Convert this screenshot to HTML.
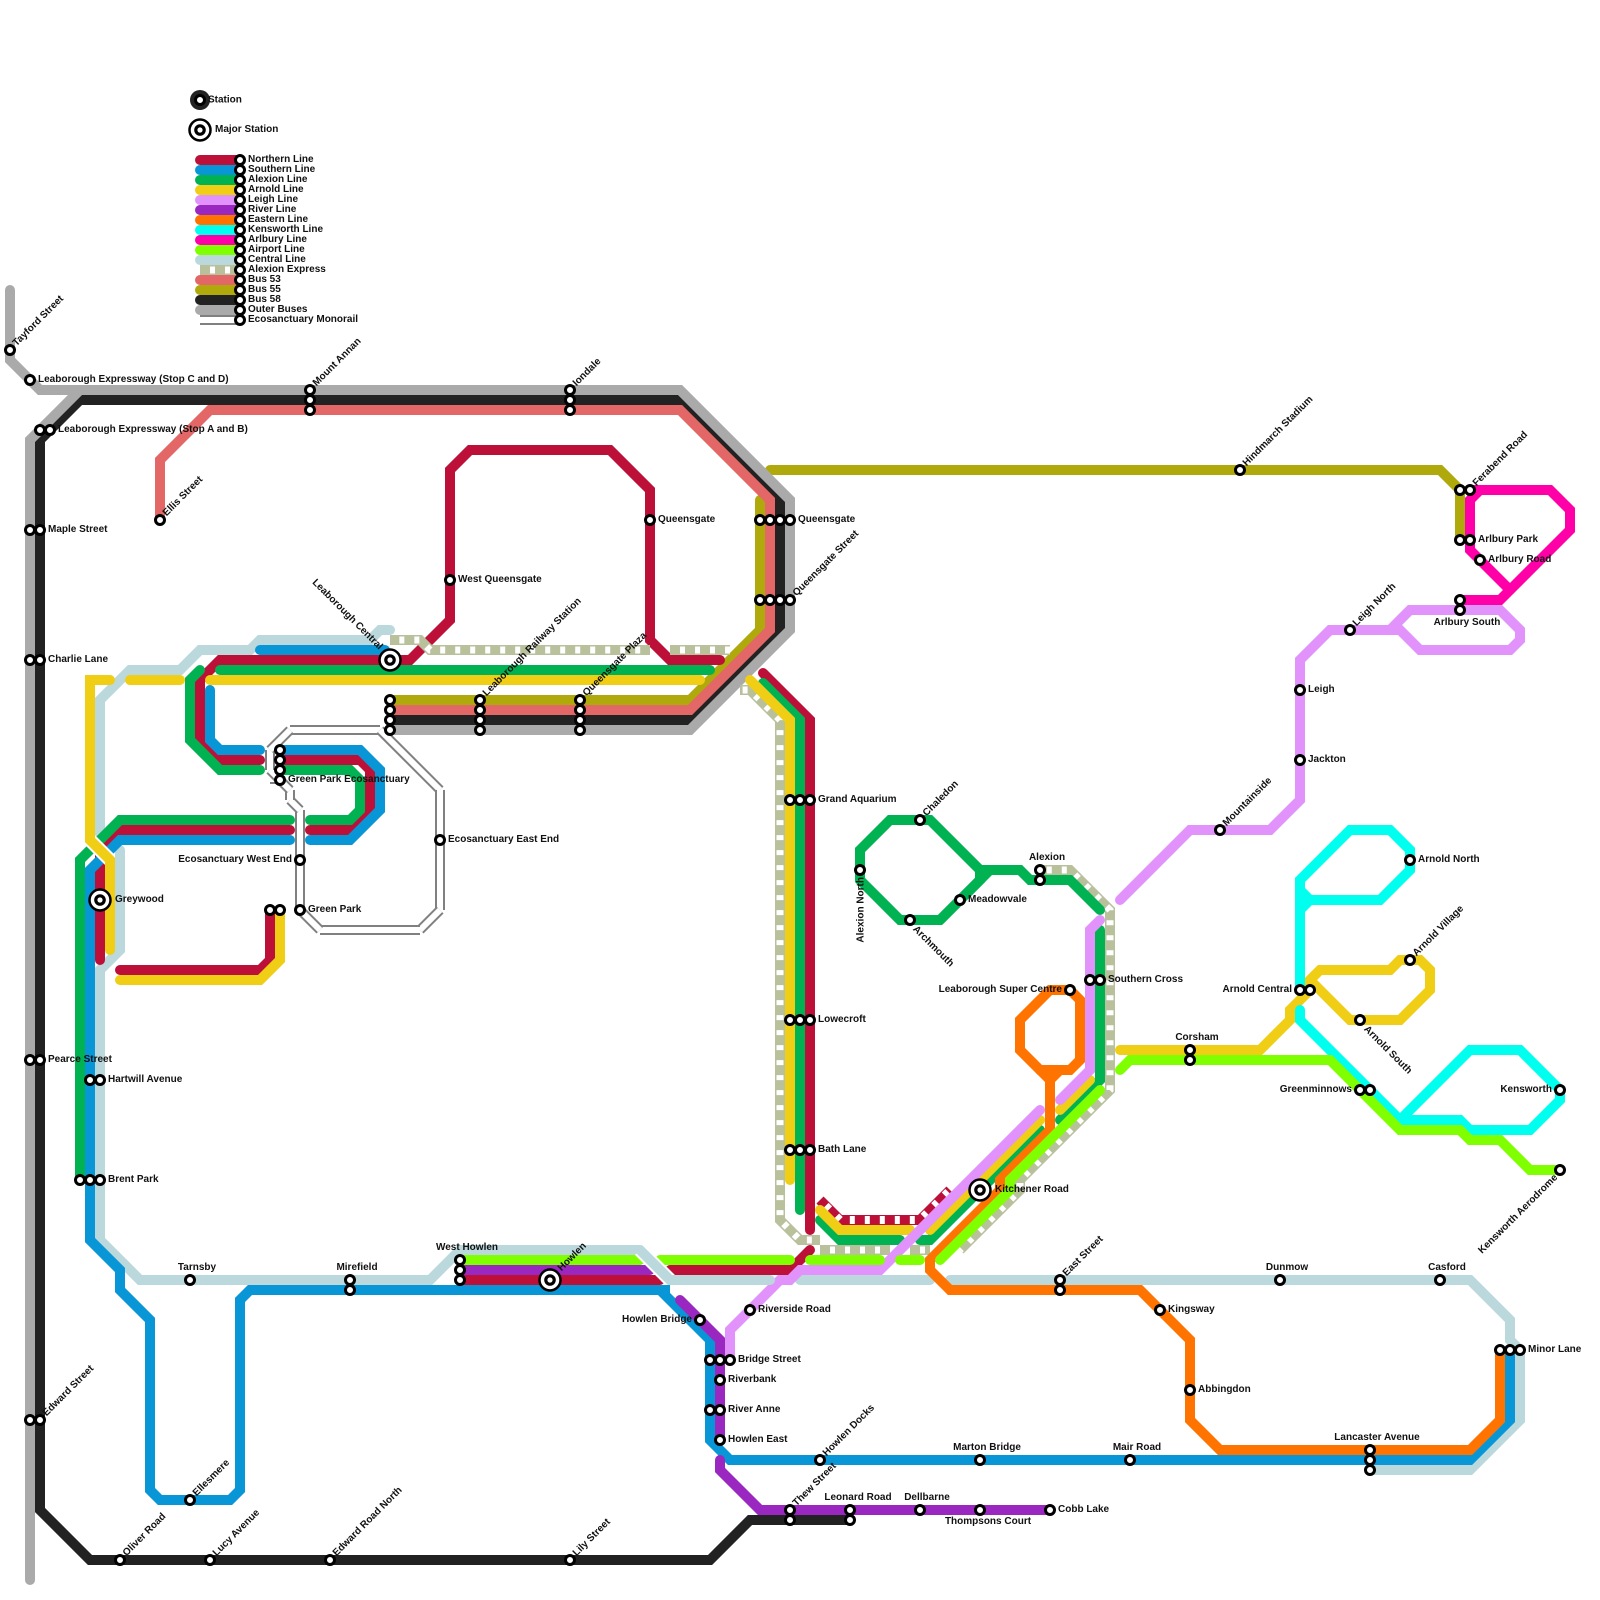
<!DOCTYPE html>
<html><head><meta charset="utf-8"><style>
html,body{margin:0;padding:0;background:#fff}
svg{display:block}
text{font-family:"Liberation Sans",sans-serif;font-size:10px;font-weight:bold;fill:#111}
.l polyline,.l line{fill:none;stroke-width:10;stroke-linecap:round;stroke-linejoin:miter}
.s circle{fill:#fff;stroke:#000;stroke-width:3}
.m{text-anchor:middle}.e{text-anchor:end}
.g{stroke:#808080;stroke-width:10}.w{stroke:#fff;stroke-width:6}
</style></head><body>
<svg xmlns="http://www.w3.org/2000/svg" width="1600" height="1600" viewBox="0 0 1600 1600">
<rect width="1600" height="1600" fill="#fff"/>
<!-- monorail -->
<g>
<line class="g" x1="290" y1="730" x2="380" y2="730"/><line class="w" x1="290" y1="730" x2="380" y2="730"/>
<line class="g" x1="380" y1="730" x2="440" y2="790"/><line class="w" x1="380" y1="730" x2="440" y2="790"/>
<line class="g" x1="440" y1="790" x2="440" y2="910"/><line class="w" x1="440" y1="790" x2="440" y2="910"/>
<line class="g" x1="440" y1="910" x2="420" y2="930"/><line class="w" x1="440" y1="910" x2="420" y2="930"/>
<line class="g" x1="420" y1="930" x2="320" y2="930"/><line class="w" x1="420" y1="930" x2="320" y2="930"/>
<line class="g" x1="320" y1="930" x2="300" y2="910"/><line class="w" x1="320" y1="930" x2="300" y2="910"/>
<line class="g" x1="300" y1="910" x2="300" y2="810"/><line class="w" x1="300" y1="910" x2="300" y2="810"/>
<line class="g" x1="300" y1="810" x2="290" y2="800"/><line class="w" x1="300" y1="810" x2="290" y2="800"/>
<line class="g" x1="290" y1="800" x2="290" y2="790"/><line class="w" x1="290" y1="800" x2="290" y2="790"/>
<line class="g" x1="290" y1="790" x2="270" y2="770"/><line class="w" x1="290" y1="790" x2="270" y2="770"/>
<line class="g" x1="270" y1="770" x2="270" y2="750"/><line class="w" x1="270" y1="770" x2="270" y2="750"/>
<line class="g" x1="270" y1="750" x2="290" y2="730"/><line class="w" x1="270" y1="750" x2="290" y2="730"/>
<line x1="270" y1="783" x2="280" y2="783" stroke="#808080" stroke-width="2"/>
</g>
<g class="l">
<!-- buses -->
<g stroke="#afa90b">
<polyline points="760,500 760,630 690,700 390,700"/>
<polyline points="770,470 1440,470 1460,490 1460,540"/>
</g>
<g stroke="#222">
<polyline points="80,400 680,400 780,500 780,630 690,720 390,720"/>
<polyline points="80,400 40,440 40,1510 90,1560 710,1560 750,1520 850,1520"/>
</g>
<polyline stroke="#e46767" points="160,520 160,460 210,410 680,410 770,500 770,630 690,710 390,710"/>
<g stroke="#aaa">
<polyline points="10,290 10,360 40,390 680,390 790,500 790,630 690,730 390,730"/>
<polyline points="80,390 30,440 30,1580"/>
</g>
<!-- central -->
<g stroke="#bbd9dc">
<polyline points="100,835 100,700 130,670 180,670 200,650 250,650 260,640 370,640 380,630 390,630"/>
<polyline points="120,850 120,950 100,970 100,1240 140,1280 430,1280 460,1250 640,1250"/>
<polyline points="800,1280 930,1280"/>
<polyline points="950,1280 1470,1280 1510,1320 1510,1340 1520,1350 1520,1420 1470,1470 1370,1470"/>
</g>
<!-- northern -->
<g stroke="#bd1038">
<polyline points="260,760 220,760 200,740 200,680 220,660 410,660 450,620 450,470 470,450 610,450 650,490 650,640 670,660 720,660"/>
<polyline points="280,760 360,760 370,770 370,810 350,830 310,830"/>
<polyline points="290,830 120,830 100,850 100,960"/>
<polyline points="120,970 260,970 270,960 270,910"/>
<polyline points="763,673 810,720 810,1230"/>
<polyline points="670,1270 790,1270 810,1250"/>
<polyline points="460,1280 660,1280"/>
<polyline points="820,1200 840,1220 920,1220 950,1190" style="stroke-linecap:butt"/>
</g>
<polyline points="820,1200 840,1220 920,1220 950,1190" style="stroke:#fff;stroke-width:8;stroke-linecap:butt;stroke-dasharray:5 10;stroke-dashoffset:-8.1"/>
<!-- express -->
<g stroke="#b8c19c">
<polyline style="stroke-linecap:butt" points="390,640 420,640 430,650 650,650"/>
<polyline style="stroke-linecap:butt" points="670,650 730,650"/>
<polyline style="stroke-linecap:butt" points="740,690 750,690 780,720 780,1220 800,1240 820,1240"/>
<polyline style="stroke-linecap:butt" points="820,1250 890,1250"/>
<polyline style="stroke-linecap:butt" points="910,1250 930,1250"/>
<polyline style="stroke-linecap:butt" points="960,1250 1020,1190 1020,1180 1110,1090 1110,910 1070,870 1040,870"/>
</g>
<g stroke="#fff">
<polyline style="stroke-linecap:butt;stroke-width:7;stroke-dasharray:5 10;stroke-dashoffset:-9.34" points="390,640 420,640 430,650 650,650"/>
<polyline style="stroke-linecap:butt;stroke-width:7;stroke-dasharray:5 10;stroke-dashoffset:-10" points="670,650 730,650"/>
<polyline style="stroke-linecap:butt;stroke-width:7;stroke-dasharray:5 10;stroke-dashoffset:-17.6" points="740,690 750,690 780,720 780,1220 800,1240 820,1240"/>
<polyline style="stroke-linecap:butt;stroke-width:7;stroke-dasharray:5 10;stroke-dashoffset:-10" points="820,1250 890,1250"/>
<polyline style="stroke-linecap:butt;stroke-width:7;stroke-dasharray:5 10;stroke-dashoffset:-10" points="910,1250 930,1250"/>
<polyline style="stroke-linecap:butt;stroke-width:7;stroke-dasharray:5 10;stroke-dashoffset:-11.9" points="960,1250 1020,1190 1020,1180 1110,1090 1110,910 1070,870 1040,870"/>
</g>
<!-- alexion -->
<g stroke="#00b251">
<polyline points="200,670 190,680 190,740 220,770 260,770"/>
<polyline points="220,670 710,670"/>
<polyline points="280,770 350,770 360,780 360,810 350,820 310,820"/>
<polyline points="290,820 120,820 80,860 80,1180"/>
<polyline points="763,683 800,720 800,1210"/>
<polyline points="820,1220 840,1240 900,1240"/>
<polyline points="920,1240 930,1240 1040,1130"/>
<polyline points="1060,1120 1100,1080 1100,930"/>
<polygon style="fill:none;stroke-width:10;stroke-linejoin:miter" points="860,850 890,820 930,820 980,870 980,880 940,920 900,920 860,880"/>
<polyline points="990,870 940,920" style="stroke-linecap:butt"/>
<polyline points="980,870 1020,870 1030,880 1070,880 1100,910"/>
</g>
<!-- arnold -->
<g stroke="#f0ce15">
<polyline points="130,680 180,680"/>
<polyline points="210,680 700,680"/>
<polyline points="120,980 260,980 280,960 280,910"/>
<polyline points="750,680 790,720 790,1180"/>
<polyline points="820,1210 840,1230 910,1230"/>
<polyline points="930,1230 1040,1120"/>
<polyline points="1060,1110 1090,1080"/>
<polyline points="1120,1050 1260,1050 1290,1020 1290,1010 1310,990 1310,980 1320,970 1390,970 1400,960 1420,960 1430,970 1430,990 1400,1020 1350,1020 1310,980"/>
</g>
<!-- leigh -->
<g stroke="#e292fb">
<polyline points="730,1360 730,1330 780,1280 790,1280 800,1270 880,1270 1040,1110"/>
<polyline points="1060,1100 1090,1070 1090,930 1100,920"/>
<polyline points="1120,900 1190,830 1270,830 1300,800 1300,660 1330,630 1400,630 1420,650 1510,650 1520,640 1520,630 1500,610 1410,610 1390,630"/>
</g>
<!-- southern -->
<g stroke="#0896d7">
<polyline points="260,650 385,650"/>
<polyline points="210,690 210,740 220,750 260,750"/>
<polyline points="280,750 360,750 380,770 380,810 350,840 310,840"/>
<polyline points="290,840 120,840 90,870 90,1240 120,1270 120,1290 150,1320 150,1490 160,1500 230,1500 240,1490 240,1300 250,1290 660,1290 710,1340 710,1440 730,1460 1470,1460 1510,1420 1510,1350"/>
<polyline points="660,1290 670,1290" style="stroke-linecap:butt"/>
</g>
<!-- arnold over bundle -->
<polyline points="90,840 110,860" style="stroke:#fff;stroke-width:14;stroke-linecap:butt"/>
<polyline stroke="#f0ce15" points="110,680 90,680 90,840 110,860 110,950"/>
<!-- eastern -->
<g stroke="#ff7300">
<polygon style="fill:none;stroke-width:10;stroke-linejoin:miter" points="1050,990 1070,990 1080,1000 1080,1060 1070,1070 1040,1070 1020,1050 1020,1020"/>
<polyline points="1060,1070 1050,1080" style="stroke-linecap:butt"/>
<polyline points="1040,1070 1050,1080 1050,1130 1000,1180 1000,1190 930,1260 930,1270 950,1290 1140,1290 1190,1340 1190,1420 1220,1450 1470,1450 1500,1420 1500,1350"/>
</g>
<!-- river -->
<g stroke="#9b27c1">
<polyline points="460,1270 650,1270"/>
<polyline points="680,1300 720,1340 720,1440"/>
<polyline points="720,1460 720,1470 760,1510 1050,1510"/>
</g>
<!-- kensworth -->
<g stroke="#00ffef">
<polyline points="1300,990 1300,880 1350,830 1390,830 1410,850 1410,870 1380,900 1310,900 1300,890"/>
<polyline points="1300,910 1310,900"/>
<polyline points="1300,1010 1300,1020 1400,1120 1460,1120 1470,1130 1530,1130 1560,1100 1560,1090 1520,1050 1470,1050 1400,1120"/>
</g>
<!-- arlbury -->
<polyline stroke="#ff00a8" points="1460,600 1500,600 1570,530 1570,510 1550,490 1480,490 1470,500 1470,550 1510,590"/>
<polyline stroke="#ff00a8" points="1470,490 1480,490"/>
<!-- airport -->
<g stroke="#7fff00">
<polyline points="460,1260 640,1260"/>
<polyline points="660,1260 790,1260"/>
<polyline points="810,1260 880,1260"/>
<polyline points="900,1260 920,1260"/>
<polyline points="940,1260 1010,1190 1010,1180 1100,1090"/>
<polyline points="1120,1070 1130,1060 1330,1060 1400,1130 1460,1130 1470,1140 1500,1140 1530,1170 1560,1170"/>
</g>
<!-- central over -->
<polyline points="640,1250 670,1280" style="stroke:#fff;stroke-width:14;stroke-linecap:butt"/>
<polyline stroke="#bbd9dc" points="640,1250 670,1280 770,1280"/>
<!-- legend -->
<line x1="200" y1="160" x2="240" y2="160" stroke="#bd1038"/>
<line x1="200" y1="170" x2="240" y2="170" stroke="#0896d7"/>
<line x1="200" y1="180" x2="240" y2="180" stroke="#00b251"/>
<line x1="200" y1="190" x2="240" y2="190" stroke="#f0ce15"/>
<line x1="200" y1="200" x2="240" y2="200" stroke="#e292fb"/>
<line x1="200" y1="210" x2="240" y2="210" stroke="#9b27c1"/>
<line x1="200" y1="220" x2="240" y2="220" stroke="#ff7300"/>
<line x1="200" y1="230" x2="240" y2="230" stroke="#00ffef"/>
<line x1="200" y1="240" x2="240" y2="240" stroke="#ff00a8"/>
<line x1="200" y1="250" x2="240" y2="250" stroke="#7fff00"/>
<line x1="200" y1="260" x2="240" y2="260" stroke="#bbd9dc"/>
<line x1="200" y1="270" x2="240" y2="270" stroke="#b8c19c" style="stroke-linecap:butt"/>
<line x1="200" y1="270" x2="240" y2="270" style="stroke:#fff;stroke-width:7;stroke-linecap:butt;stroke-dasharray:5 10;stroke-dashoffset:-10"/>
<line x1="200" y1="280" x2="240" y2="280" stroke="#e46767"/>
<line x1="200" y1="290" x2="240" y2="290" stroke="#afa90b"/>
<line x1="200" y1="300" x2="240" y2="300" stroke="#222"/>
<line x1="200" y1="310" x2="240" y2="310" stroke="#aaa"/>
</g>
<line x1="200" y1="316" x2="240" y2="316" stroke="#808080" stroke-width="2"/>
<line x1="200" y1="324" x2="240" y2="324" stroke="#808080" stroke-width="2"/>
<circle cx="200" cy="100" r="10" fill="#222"/>
<!-- major stations -->
<g fill="#fff" stroke="#000">
<circle cx="200" cy="130" r="10.5" stroke-width="2.5"/><circle cx="200" cy="130" r="4.2" stroke-width="3.2"/>
<circle cx="390" cy="660" r="10.5" stroke-width="2.5"/><circle cx="390" cy="660" r="4.2" stroke-width="3.2"/>
<circle cx="100" cy="900" r="10.5" stroke-width="2.5"/><circle cx="100" cy="900" r="4.2" stroke-width="3.2"/>
<circle cx="550" cy="1280" r="10.5" stroke-width="2.5"/><circle cx="550" cy="1280" r="4.2" stroke-width="3.2"/>
<circle cx="980" cy="1190" r="10.5" stroke-width="2.5"/><circle cx="980" cy="1190" r="4.2" stroke-width="3.2"/>
</g>
<!-- stations -->
<g class="s">
<circle cx="200" cy="100" r="4.5"/>
<circle cx="240" cy="160" r="4.5"/><circle cx="240" cy="170" r="4.5"/><circle cx="240" cy="180" r="4.5"/><circle cx="240" cy="190" r="4.5"/><circle cx="240" cy="200" r="4.5"/><circle cx="240" cy="210" r="4.5"/><circle cx="240" cy="220" r="4.5"/><circle cx="240" cy="230" r="4.5"/><circle cx="240" cy="240" r="4.5"/><circle cx="240" cy="250" r="4.5"/><circle cx="240" cy="260" r="4.5"/><circle cx="240" cy="270" r="4.5"/><circle cx="240" cy="280" r="4.5"/><circle cx="240" cy="290" r="4.5"/><circle cx="240" cy="300" r="4.5"/><circle cx="240" cy="310" r="4.5"/><circle cx="240" cy="320" r="4.5"/>
<circle cx="10" cy="350" r="4.5"/><circle cx="30" cy="380" r="4.5"/><circle cx="40" cy="430" r="4.5"/><circle cx="50" cy="430" r="4.5"/>
<circle cx="30" cy="530" r="4.5"/><circle cx="40" cy="530" r="4.5"/><circle cx="30" cy="660" r="4.5"/><circle cx="40" cy="660" r="4.5"/>
<circle cx="30" cy="1060" r="4.5"/><circle cx="40" cy="1060" r="4.5"/><circle cx="30" cy="1420" r="4.5"/><circle cx="40" cy="1420" r="4.5"/>
<circle cx="120" cy="1560" r="4.5"/><circle cx="210" cy="1560" r="4.5"/><circle cx="330" cy="1560" r="4.5"/><circle cx="570" cy="1560" r="4.5"/>
<circle cx="310" cy="390" r="4.5"/><circle cx="310" cy="400" r="4.5"/><circle cx="310" cy="410" r="4.5"/>
<circle cx="570" cy="390" r="4.5"/><circle cx="570" cy="400" r="4.5"/><circle cx="570" cy="410" r="4.5"/>
<circle cx="160" cy="520" r="4.5"/><circle cx="650" cy="520" r="4.5"/><circle cx="450" cy="580" r="4.5"/>
<circle cx="390" cy="700" r="4.5"/><circle cx="390" cy="710" r="4.5"/><circle cx="390" cy="720" r="4.5"/><circle cx="390" cy="730" r="4.5"/>
<circle cx="480" cy="700" r="4.5"/><circle cx="480" cy="710" r="4.5"/><circle cx="480" cy="720" r="4.5"/><circle cx="480" cy="730" r="4.5"/>
<circle cx="580" cy="700" r="4.5"/><circle cx="580" cy="710" r="4.5"/><circle cx="580" cy="720" r="4.5"/><circle cx="580" cy="730" r="4.5"/>
<circle cx="280" cy="750" r="4.5"/><circle cx="280" cy="760" r="4.5"/><circle cx="280" cy="770" r="4.5"/><circle cx="280" cy="780" r="4.5"/>
<circle cx="440" cy="840" r="4.5"/><circle cx="300" cy="860" r="4.5"/><circle cx="270" cy="910" r="4.5"/><circle cx="280" cy="910" r="4.5"/><circle cx="300" cy="910" r="4.5"/>
<circle cx="90" cy="1080" r="4.5"/><circle cx="100" cy="1080" r="4.5"/><circle cx="80" cy="1180" r="4.5"/><circle cx="90" cy="1180" r="4.5"/><circle cx="100" cy="1180" r="4.5"/>
<circle cx="190" cy="1280" r="4.5"/><circle cx="350" cy="1280" r="4.5"/><circle cx="350" cy="1290" r="4.5"/><circle cx="190" cy="1500" r="4.5"/>
<circle cx="460" cy="1260" r="4.5"/><circle cx="460" cy="1270" r="4.5"/><circle cx="460" cy="1280" r="4.5"/>
<circle cx="700" cy="1320" r="4.5"/><circle cx="750" cy="1310" r="4.5"/><circle cx="710" cy="1360" r="4.5"/><circle cx="720" cy="1360" r="4.5"/><circle cx="730" cy="1360" r="4.5"/>
<circle cx="720" cy="1380" r="4.5"/><circle cx="710" cy="1410" r="4.5"/><circle cx="720" cy="1410" r="4.5"/><circle cx="720" cy="1440" r="4.5"/>
<circle cx="820" cy="1460" r="4.5"/><circle cx="790" cy="1510" r="4.5"/><circle cx="790" cy="1520" r="4.5"/><circle cx="850" cy="1510" r="4.5"/><circle cx="850" cy="1520" r="4.5"/>
<circle cx="920" cy="1510" r="4.5"/><circle cx="980" cy="1510" r="4.5"/><circle cx="1050" cy="1510" r="4.5"/><circle cx="980" cy="1460" r="4.5"/><circle cx="1130" cy="1460" r="4.5"/>
<circle cx="1370" cy="1450" r="4.5"/><circle cx="1370" cy="1460" r="4.5"/><circle cx="1370" cy="1470" r="4.5"/>
<circle cx="1500" cy="1350" r="4.5"/><circle cx="1510" cy="1350" r="4.5"/><circle cx="1520" cy="1350" r="4.5"/>
<circle cx="1190" cy="1390" r="4.5"/><circle cx="1160" cy="1310" r="4.5"/><circle cx="1280" cy="1280" r="4.5"/><circle cx="1440" cy="1280" r="4.5"/>
<circle cx="1060" cy="1280" r="4.5"/><circle cx="1060" cy="1290" r="4.5"/><circle cx="1190" cy="1050" r="4.5"/><circle cx="1190" cy="1060" r="4.5"/>
<circle cx="1300" cy="990" r="4.5"/><circle cx="1310" cy="990" r="4.5"/><circle cx="1360" cy="1020" r="4.5"/><circle cx="1410" cy="960" r="4.5"/>
<circle cx="1360" cy="1090" r="4.5"/><circle cx="1370" cy="1090" r="4.5"/><circle cx="1560" cy="1090" r="4.5"/><circle cx="1560" cy="1170" r="4.5"/>
<circle cx="1240" cy="470" r="4.5"/><circle cx="1460" cy="490" r="4.5"/><circle cx="1470" cy="490" r="4.5"/><circle cx="1460" cy="540" r="4.5"/><circle cx="1470" cy="540" r="4.5"/>
<circle cx="1480" cy="560" r="4.5"/><circle cx="1460" cy="600" r="4.5"/><circle cx="1460" cy="610" r="4.5"/><circle cx="1350" cy="630" r="4.5"/><circle cx="1300" cy="690" r="4.5"/><circle cx="1300" cy="760" r="4.5"/>
<circle cx="1220" cy="830" r="4.5"/><circle cx="1410" cy="860" r="4.5"/><circle cx="920" cy="820" r="4.5"/><circle cx="860" cy="870" r="4.5"/><circle cx="910" cy="920" r="4.5"/><circle cx="960" cy="900" r="4.5"/>
<circle cx="1040" cy="870" r="4.5"/><circle cx="1040" cy="880" r="4.5"/><circle cx="1070" cy="990" r="4.5"/><circle cx="1090" cy="980" r="4.5"/><circle cx="1100" cy="980" r="4.5"/>
<circle cx="790" cy="800" r="4.5"/><circle cx="800" cy="800" r="4.5"/><circle cx="810" cy="800" r="4.5"/>
<circle cx="790" cy="1020" r="4.5"/><circle cx="800" cy="1020" r="4.5"/><circle cx="810" cy="1020" r="4.5"/>
<circle cx="790" cy="1150" r="4.5"/><circle cx="800" cy="1150" r="4.5"/><circle cx="810" cy="1150" r="4.5"/>
<circle cx="760" cy="520" r="4.5"/><circle cx="770" cy="520" r="4.5"/><circle cx="780" cy="520" r="4.5"/><circle cx="790" cy="520" r="4.5"/>
<circle cx="760" cy="600" r="4.5"/><circle cx="770" cy="600" r="4.5"/><circle cx="780" cy="600" r="4.5"/><circle cx="790" cy="600" r="4.5"/>
</g>
<!-- legend text -->
<text x="208" y="102.5">Station</text>
<text x="215" y="132">Major Station</text>
<text x="248" y="162">Northern Line</text><text x="248" y="172">Southern Line</text><text x="248" y="182">Alexion Line</text><text x="248" y="192">Arnold Line</text><text x="248" y="202">Leigh Line</text><text x="248" y="212">River Line</text><text x="248" y="222">Eastern Line</text><text x="248" y="232">Kensworth Line</text><text x="248" y="242">Arlbury Line</text><text x="248" y="252">Airport Line</text><text x="248" y="262">Central Line</text><text x="248" y="272">Alexion Express</text><text x="248" y="282">Bus 53</text><text x="248" y="292">Bus 55</text><text x="248" y="302">Bus 58</text><text x="248" y="312">Outer Buses</text><text x="248" y="322">Ecosanctuary Monorail</text>
<!-- horizontal labels -->
<text x="38" y="382">Leaborough Expressway (Stop C and D)</text>
<text x="58" y="432">Leaborough Expressway (Stop A and B)</text>
<text x="48" y="532">Maple Street</text>
<text x="48" y="662">Charlie Lane</text>
<text x="48" y="1062">Pearce Street</text>
<text x="658" y="522">Queensgate</text>
<text x="458" y="582">West Queensgate</text>
<text x="798" y="522">Queensgate</text>
<text x="288" y="782">Green Park Ecosanctuary</text>
<text x="448" y="842">Ecosanctuary East End</text>
<text x="292" y="862" class="e">Ecosanctuary West End</text>
<text x="308" y="912">Green Park</text>
<text x="115" y="902">Greywood</text>
<text x="108" y="1082">Hartwill Avenue</text>
<text x="108" y="1182">Brent Park</text>
<text x="197" y="1270" class="m">Tarnsby</text>
<text x="357" y="1270" class="m">Mirefield</text>
<text x="467" y="1250" class="m">West Howlen</text>
<text x="692" y="1322" class="e">Howlen Bridge</text>
<text x="758" y="1312">Riverside Road</text>
<text x="738" y="1362">Bridge Street</text>
<text x="728" y="1382">Riverbank</text>
<text x="728" y="1412">River Anne</text>
<text x="728" y="1442">Howlen East</text>
<text x="858" y="1500" class="m">Leonard Road</text>
<text x="927" y="1500" class="m">Dellbarne</text>
<text x="988" y="1524" class="m">Thompsons Court</text>
<text x="1058" y="1512">Cobb Lake</text>
<text x="987" y="1450" class="m">Marton Bridge</text>
<text x="1137" y="1450" class="m">Mair Road</text>
<text x="1377" y="1440" class="m">Lancaster Avenue</text>
<text x="1528" y="1352">Minor Lane</text>
<text x="1198" y="1392">Abbingdon</text>
<text x="1168" y="1312">Kingsway</text>
<text x="1287" y="1270" class="m">Dunmow</text>
<text x="1447" y="1270" class="m">Casford</text>
<text x="995" y="1192">Kitchener Road</text>
<text x="1197" y="1040" class="m">Corsham</text>
<text x="1292" y="992" class="e">Arnold Central</text>
<text x="1352" y="1092" class="e">Greenminnows</text>
<text x="1552" y="1092" class="e">Kensworth</text>
<text x="1478" y="542">Arlbury Park</text>
<text x="1488" y="562">Arlbury Road</text>
<text x="1467" y="625" class="m">Arlbury South</text>
<text x="1308" y="692">Leigh</text>
<text x="1308" y="762">Jackton</text>
<text x="1418" y="862">Arnold North</text>
<text x="968" y="902">Meadowvale</text>
<text x="1047" y="860" class="m">Alexion</text>
<text x="1062" y="992" class="e">Leaborough Super Centre</text>
<text x="1108" y="982">Southern Cross</text>
<text x="818" y="802">Grand Aquarium</text>
<text x="818" y="1022">Lowecroft</text>
<text x="818" y="1152">Bath Lane</text>
<!-- rotated labels -->
<text transform="translate(16.5,346.5) rotate(-45)">Tayford Street</text>
<text transform="translate(46.5,1416.5) rotate(-45)">Edward Street</text>
<text transform="translate(126.5,1556.5) rotate(-45)">Oliver Road</text>
<text transform="translate(216.5,1556.5) rotate(-45)">Lucy Avenue</text>
<text transform="translate(336.5,1556.5) rotate(-45)">Edward Road North</text>
<text transform="translate(576.5,1556.5) rotate(-45)">Lily Street</text>
<text transform="translate(316.5,386.5) rotate(-45)">Mount Annan</text>
<text transform="translate(576.5,386.5) rotate(-45)">Iondale</text>
<text transform="translate(166.5,516.5) rotate(-45)">Ellis Street</text>
<text transform="translate(379,650) rotate(45)" class="e">Leaborough Central</text>
<text transform="translate(486.5,696.5) rotate(-45)">Leaborough Railway Station</text>
<text transform="translate(586.5,696.5) rotate(-45)">Queensgate Plaza</text>
<text transform="translate(796.5,596.5) rotate(-45)">Queensgate Street</text>
<text transform="translate(196.5,1496.5) rotate(-45)">Ellesmere</text>
<text transform="translate(561.5,1271.5) rotate(-45)">Howlen</text>
<text transform="translate(826.5,1456.5) rotate(-45)">Howlen Docks</text>
<text transform="translate(796.5,1506.5) rotate(-45)">Thew Street</text>
<text transform="translate(1066.5,1276.5) rotate(-45)">East Street</text>
<text transform="translate(1416.5,956.5) rotate(-45)">Arnold Village</text>
<text transform="translate(1363.5,1029.5) rotate(45)">Arnold South</text>
<text transform="translate(1558,1178) rotate(-45)" class="e">Kensworth Aerodrome</text>
<text transform="translate(1246.5,466.5) rotate(-45)">Hindmarch Stadium</text>
<text transform="translate(1476.5,486.5) rotate(-45)">Ferabend Road</text>
<text transform="translate(1356.5,626.5) rotate(-45)">Leigh North</text>
<text transform="translate(1226.5,826.5) rotate(-45)">Mountainside</text>
<text transform="translate(926.5,816.5) rotate(-45)">Chaledon</text>
<text transform="translate(863.5,877) rotate(-90)" class="e">Alexion North</text>
<text transform="translate(912.5,929.5) rotate(45)">Archmouth</text>
</svg>
</body></html>
